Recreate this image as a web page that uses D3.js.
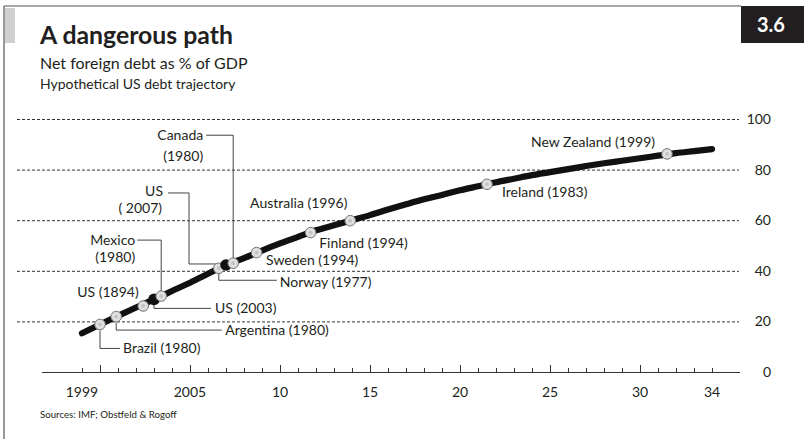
<!DOCTYPE html>
<html><head><meta charset="utf-8">
<script src="https://cdn.jsdelivr.net/npm/d3@7/dist/d3.min.js"></script>
<style>body{margin:0;background:#fff}svg{display:block}text{font-family:Lato,"Noto Sans",sans-serif}</style>
</head><body>
<svg id="c" width="804" height="439"></svg>
<script>
// ---- data ----
const years = [1999,2000,2001,2002,2003,2004,2005,2006,2007,2008,2009,2010,2011,2012,2013,2014,2015,2016,2017,2018,2019,2020,2021,2022,2023,2024,2025,2026,2027,2028,2029,2030,2031,2032,2033,2034];
const debt  = [15.3,18.8,22.2,25.5,28.7,32.0,35.3,38.8,42.3,45.0,48.0,50.8,53.4,56.0,58.0,60.0,62.0,64.2,66.3,68.3,70.0,71.8,73.4,75.0,76.4,77.8,79.0,80.2,81.4,82.5,83.5,84.5,85.5,86.5,87.3,88.1];
const markerNames  = ["Brazil","Argentina","US1894","US2003","Mexico","Norway","US2007","Canada","Sweden","Australia","Finland","Ireland","NewZealand"];
const markerYears  = [2000.0,2000.9,2002.4,2003.0,2003.4,2006.6,2007.0,2007.4,2008.7,2011.7,2013.9,2021.5,2031.5];
const markerValues = [18.8,21.9,26.1,28.7,30.0,41.0,42.3,43.0,47.2,55.1,59.8,74.2,86.2];
const markerSolid  = [false,false,false,true,false,false,true,false,false,false,false,false,false];
const markerLabels = [["Brazil (1980)"],["Argentina (1980)"],["US (1894)"],["US (2003)"],["Mexico","(1980)"],["Norway (1977)"],["US","( 2007)"],["Canada","(1980)"],["Sweden (1994)"],["Australia (1996)"],["Finland (1994)"],["Ireland (1983)"],["New Zealand (1999)"]];
const yTicks = [0,20,40,60,80,100];
const xTickYears = [1999,2005,2010,2015,2020,2025,2030,2034];
const xTickLabels = ["1999","2005","10","15","20","25","30","34"];

// ---- annotation layout (pixel offsets from marker) ----
const layout = {
  Brazil:    {leader:[[0,6],[0,24],[20,24]], text:[[23,29]], anchor:"start"},
  Argentina: {leader:[[0,6],[0,13.5],[105.5,13.5]], text:[[109,18.5]], anchor:"start"},
  US1894:    {leader:null, text:[[-4.5,-9]], anchor:"end"},
  US2003:    {leader:[[0,0],[0,9],[57,9]], text:[[61,14]], anchor:"start"},
  Mexico:    {leader:[[0,-5],[0,-56],[-24,-56]], text:[[-26,-51.5],[-26,-34]], anchor:"end"},
  Norway:    {leader:[[0,5],[0,12],[58,12]], text:[[61,19]], anchor:"start"},
  US2007:    {leader:[[0,-1],[-37,-1],[-37,-72],[-58,-72]], text:[[-63,-68.5],[-64,-52]], anchor:"end"},
  Canada:    {leader:[[0,-5],[0,-128],[-27,-128]], text:[[-30,-123.5],[-30,-102.5]], anchor:"end"},
  Sweden:    {leader:null, text:[[9.5,12.5]], anchor:"start"},
  Australia: {leader:null, text:[[-60.5,-24.5]], anchor:"start"},
  Finland:   {leader:null, text:[[-31,27]], anchor:"start"},
  Ireland:   {leader:null, text:[[15,12.7]], anchor:"start"},
  NewZealand:{leader:null, text:[[-12,-7]], anchor:"end"}
};

const svg = d3.select("#c");
const x = d3.scaleLinear().domain([1999,2034]).range([82,712]);
const y = d3.scaleLinear().domain([0,100]).range([372,119]);

// frame
svg.append("line").attr("x1",4).attr("x2",741).attr("y1",6).attr("y2",6).attr("stroke","#555").attr("stroke-width",1.2);
svg.append("line").attr("x1",4).attr("x2",4).attr("y1",6).attr("y2",439).attr("stroke","#555").attr("stroke-width",1.2);
svg.append("rect").attr("x",5).attr("y",8).attr("width",10).attr("height",35).attr("fill","#cfcfcf");
svg.append("rect").attr("x",741).attr("y",6).attr("width",63).attr("height",37).attr("fill","#231f20");
svg.append("text").attr("x",771).attr("y",32).attr("text-anchor","middle").attr("fill","#fff")
  .attr("font-weight","bold").attr("font-size",20).text("3.6");

// titles
svg.append("text").attr("x",40).attr("y",44).attr("font-weight","bold").attr("font-size",24.8).attr("fill","#231f20").text("A dangerous path");
svg.append("text").attr("x",40).attr("y",69).attr("font-size",16).attr("fill","#231f20").text("Net foreign debt as % of GDP");
svg.append("text").attr("x",40).attr("y",89).attr("font-size",14).attr("fill","#231f20").text("Hypothetical US debt trajectory");
svg.append("text").attr("x",40).attr("y",418).attr("font-size",9.7).attr("fill","#231f20").text("Sources: IMF; Obstfeld & Rogoff");

// gridlines
svg.append("g").selectAll("line").data(yTicks.filter(d=>d>0)).join("line")
  .attr("x1",17).attr("x2",739).attr("y1",d=>y(d)+0.5).attr("y2",d=>y(d)+0.5)
  .attr("stroke","#333").attr("stroke-width",1).attr("stroke-dasharray","3,2");
svg.append("g").selectAll("text").data(yTicks).join("text")
  .attr("x",771).attr("y",d=>y(d)+5).attr("text-anchor","end").attr("font-size",14).attr("fill","#231f20").text(d=>d);

// x axis
svg.append("line").attr("x1",42).attr("x2",740).attr("y1",372.5).attr("y2",372.5).attr("stroke","#333").attr("stroke-width",1);
const allYears = d3.range(1999,2035);
svg.append("g").selectAll("line").data(allYears).join("line")
  .attr("x1",d=>Math.round(x(d))+0.5).attr("x2",d=>Math.round(x(d))+0.5)
  .attr("y1",372).attr("y2",d=>(d%5===0)?365:368)
  .attr("stroke","#333").attr("stroke-width",1);
svg.append("g").selectAll("text").data(xTickYears).join("text")
  .attr("x",d=>x(d)).attr("y",397).attr("text-anchor","middle").attr("font-size",14).attr("fill","#231f20")
  .text((d,i)=>xTickLabels[i]);

// curve
const line = d3.line().x((d,i)=>x(years[i])).y(d=>y(d)).curve(d3.curveMonotoneX);
svg.append("path").attr("d",line(debt)).attr("fill","none").attr("stroke","#111").attr("stroke-width",6.2).attr("stroke-linecap","round");

// leaders and labels
const markers = markerNames.map((n,i)=>({name:n,cx:x(markerYears[i]),cy:y(markerValues[i]),solid:markerSolid[i],lab:markerLabels[i]}));
const gl = svg.append("g");
markers.forEach(m=>{
  const L = layout[m.name];
  if(L.leader){
    gl.append("path").attr("d", d3.line()(L.leader.map(p=>[m.cx+p[0],m.cy+p[1]])))
      .attr("fill","none").attr("stroke","#444").attr("stroke-width",1);
  }
  m.lab.forEach((t,j)=>{
    gl.append("text").attr("x",m.cx+L.text[j][0]).attr("y",m.cy+L.text[j][1])
      .attr("text-anchor",L.anchor).attr("font-size",14).attr("fill","#231f20").text(t);
  });
});

// markers
const gm = svg.append("g");
markers.forEach(m=>{
  if(m.solid){
    gm.append("circle").attr("cx",m.cx).attr("cy",m.cy).attr("r",5.8).attr("fill","#111");
  } else {
    gm.append("circle").attr("cx",m.cx).attr("cy",m.cy).attr("r",5.3).attr("fill","#dcdcdc").attr("stroke","#777").attr("stroke-width",1);
    gm.append("circle").attr("cx",m.cx).attr("cy",m.cy).attr("r",2.6).attr("fill","#c4c4c4").attr("stroke","#eee").attr("stroke-width",0.8);
  }
});
</script>
</body></html>
